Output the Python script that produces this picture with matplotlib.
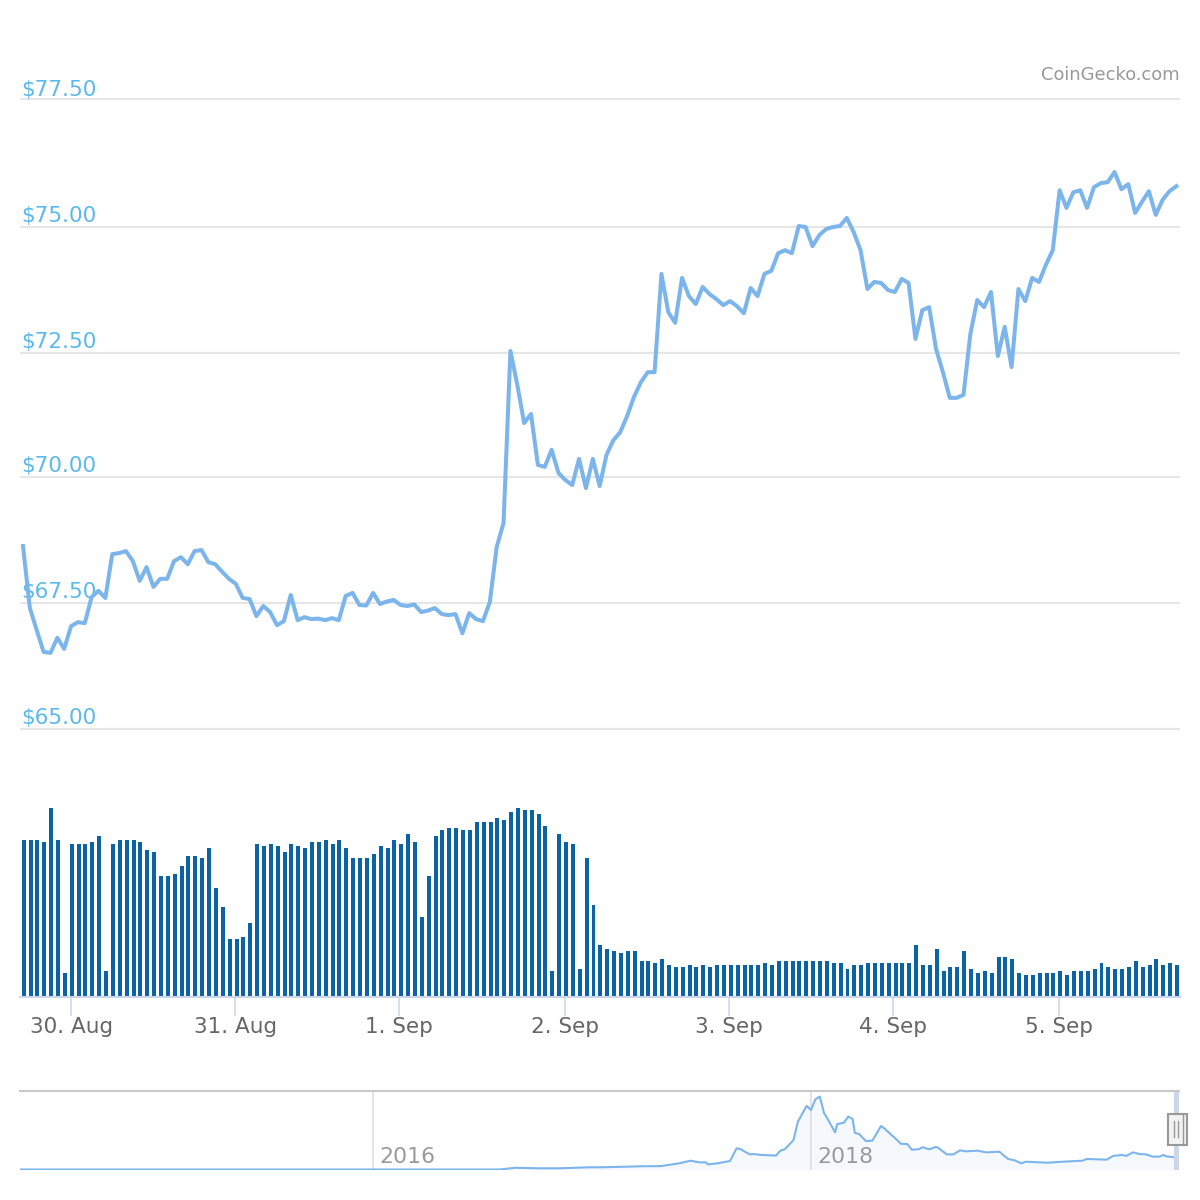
import numpy as np
import matplotlib
matplotlib.use('Agg')
import matplotlib.pyplot as plt
from matplotlib.patches import Rectangle
from matplotlib.lines import Line2D

# hourly price
prices = [68.63, 67.40, 66.96, 66.53, 66.51, 66.81, 66.59, 67.04, 67.12, 67.10,
          67.62, 67.74, 67.60, 68.47, 68.49, 68.53, 68.33, 67.94, 68.21, 67.82,
          67.98, 67.98, 68.33, 68.41, 68.27, 68.53, 68.55, 68.31, 68.27, 68.12,
          67.98, 67.88, 67.60, 67.58, 67.24, 67.44, 67.32, 67.06, 67.14, 67.66,
          67.16, 67.22, 67.18, 67.19, 67.16, 67.20, 67.16, 67.64, 67.70, 67.46,
          67.45, 67.70, 67.48, 67.53, 67.56, 67.46, 67.44, 67.47, 67.32, 67.35,
          67.40, 67.28, 67.26, 67.28, 66.90, 67.30, 67.18, 67.14, 67.52, 68.61,
          69.09, 72.50, 71.83, 71.07, 71.25, 70.24, 70.20, 70.54, 70.08, 69.94,
          69.84, 70.36, 69.78, 70.36, 69.82, 70.44, 70.73, 70.89, 71.21, 71.59,
          71.88, 72.08, 72.08, 74.03, 73.27, 73.06, 73.95, 73.59, 73.43, 73.77,
          73.63, 73.53, 73.41, 73.49, 73.39, 73.25, 73.75, 73.59, 74.03, 74.09,
          74.44, 74.50, 74.44, 74.98, 74.96, 74.58, 74.80, 74.92, 74.96, 74.98,
          75.14, 74.86, 74.50, 73.73, 73.87, 73.85, 73.71, 73.67, 73.93, 73.85,
          72.74, 73.31, 73.37, 72.54, 72.08, 71.57, 71.57, 71.63, 72.84, 73.51,
          73.37, 73.67, 72.40, 72.98, 72.18, 73.73, 73.49, 73.95, 73.87, 74.21,
          74.50, 75.69, 75.34, 75.65, 75.69, 75.34, 75.75, 75.83, 75.85, 76.05,
          75.71, 75.81, 75.24, 75.46, 75.67, 75.20, 75.50, 75.67, 75.77]

# volume bars, arbitrary units since the panel has no scale
volumes = [156, 156, 156, 154, 188, 156, 24, 152, 152, 152, 154, 160, 26, 152, 156,
           156, 156, 154, 146, 144, 120, 120, 122, 130, 140, 140, 138, 148, 108, 90,
           58, 58, 60, 74, 152, 150, 152, 150, 144, 152, 150, 148, 154, 154, 156,
           152, 156, 148, 138, 138, 138, 142, 150, 148, 156,
           152, 162, 154, 80, 120, 160, 166, 168, 168, 166, 166, 174, 174, 174, 178,
           176, 184, 188, 186, 186, 182, 170, 26, 162, 154, 152, 28, 138, 92, 52,
           48, 46, 44, 46, 46, 36, 36, 34, 38, 32, 30, 30, 32, 30, 32,
           30, 32, 32, 32, 32, 32, 32, 32, 34, 32, 36, 36, 36, 36,
           36, 36, 36, 36, 34, 34, 28, 32, 32, 34, 34, 34, 34, 34, 34,
           34, 52, 32, 32, 48, 26, 30, 30, 46, 28, 24, 26, 24, 40, 40,
           38, 24, 22, 22, 24, 24, 24, 26, 22, 26, 26, 26, 28, 34, 30,
           28, 28, 30, 36, 30, 32, 38, 32, 34, 32]

# the gridlines in the picture are not quite evenly spaced
price_ticks = [65, 67.5, 70, 72.46, 74.96, 77.5]
price_labels = ['$65.00', '$67.50', '$70.00', '$72.50', '$75.00', '$77.50']
day_ticks = [6.9, 30.8, 54.7, 78.85, 102.75, 126.65, 150.8]
day_labels = ['30. Aug', '31. Aug', '1. Sep', '2. Sep', '3. Sep', '4. Sep', '5. Sep']

# navigator series, whole history
nav_years = [2014.39, 2015.67, 2016.58, 2016.65, 2016.69, 2016.76, 2016.85, 2016.99, 2017.04,
             2017.17, 2017.22, 2017.31, 2017.33, 2017.40, 2017.45, 2017.49, 2017.52, 2017.53,
             2017.57, 2017.63, 2017.65, 2017.66, 2017.68, 2017.72, 2017.74, 2017.77, 2017.84,
             2017.86, 2017.88, 2017.92, 2017.94, 2017.98, 2018.00, 2018.02, 2018.04, 2018.06,
             2018.07, 2018.11, 2018.12, 2018.15, 2018.17, 2018.19, 2018.20, 2018.22, 2018.25,
             2018.28, 2018.32, 2018.34, 2018.37, 2018.38, 2018.41, 2018.44, 2018.46, 2018.49,
             2018.51, 2018.54, 2018.57, 2018.58, 2018.62, 2018.65, 2018.68, 2018.71, 2018.76,
             2018.80, 2018.86, 2018.90, 2018.93, 2018.96, 2018.98, 2019.08, 2019.15, 2019.24,
             2019.26, 2019.35, 2019.38, 2019.42, 2019.44, 2019.47, 2019.50, 2019.53, 2019.56,
             2019.59, 2019.61, 2019.62, 2019.67]
nav_prices = [3, 3, 3, 13, 12, 10, 10, 16, 16,
              20, 22, 23, 26, 40, 55, 45, 45, 33,
              39, 53, 102, 128, 122, 92, 94, 89, 85,
              114, 122, 177, 285, 378, 354, 417, 433, 334,
              315, 222, 271, 279, 315, 301, 220, 212, 171,
              173, 260, 240, 203, 193, 155, 153, 120, 122,
              134, 122, 136, 132, 92, 92, 116, 110, 114,
              104, 108, 65, 57, 39, 49, 43, 49, 55,
              65, 61, 83, 89, 83, 104, 94, 92, 79,
              79, 89, 81, 73]
nav_ticks = [2016, 2018]

W = H = 1200
fig = plt.figure(figsize=(12, 12), dpi=100, facecolor='white')


def px_axes(left, top, right, bottom):
    ax = fig.add_axes([left / W, 1 - bottom / H, (right - left) / W, (bottom - top) / H])
    ax.patch.set_alpha(0)
    for s in ax.spines.values():
        s.set_visible(False)
    return ax


step = 6.865
hours = np.arange(len(prices))

# price panel
ax = px_axes(20, 60, 1180, 740)
ax.set_xlim((20 - 23) / step, (1180 - 23) / step)
ax.set_ylim(65 - 11 / 50.4, 65 + 669 / 50.4)
ax.set_xticks([])
ax.set_yticks([])
for val, lab in zip(price_ticks, price_labels):
    ax.axhline(val, color='#e6e6e6', lw=1.5, zorder=1)
    # top label sits closer to its line in the original
    dy = 2.2 if lab == '$77.50' else 3.5
    ax.annotate(lab, xy=(0, val), xycoords=('axes fraction', 'data'), xytext=(1, dy),
                textcoords='offset points', color='#5bb9ec', fontsize=15.5, va='baseline',
                family='DejaVu Sans', zorder=2)
ax.plot(hours, prices, color='#7cb5ec', lw=2.9, zorder=3, solid_joinstyle='round')

# volume panel, bars sit a little right of the line points
vx = px_axes(20, 790, 1180, 997)
vx.set_xlim((20 - 23.7) / step, (1180 - 23.7) / step)
vx.set_ylim(0, 206)
vx.bar(hours, volumes, width=0.58, color='#0b62a4', zorder=2)
vx.set_yticks([])
vx.spines['bottom'].set_visible(True)
vx.spines['bottom'].set_color('#ccd6eb')
vx.spines['bottom'].set_linewidth(1.5)
vx.set_xticks(day_ticks)
vx.set_xticklabels(day_labels, fontsize=15.5, color='#666666')
vx.tick_params(axis='x', length=13.5, width=1.1, color='#ccd6eb', pad=0.7)

# navigator
nx = px_axes(20, 1091, 1180, 1170)
nx.set_xlim(2016 + (20 - 373) / 219, 2016 + (1180 - 373) / 219)
nx.set_ylim(0, 466)
nx.set_xticks([])
nx.set_yticks([])
for yr in nav_ticks:
    nx.axvline(yr, color='#e0e0e0', lw=1.3, zorder=1)
    nx.annotate(str(yr), xy=(yr, 0), xycoords='data', xytext=(4.6, 5.3), textcoords='offset points',
                color='#999999', fontsize=15.8, va='baseline', zorder=3)
nx.fill_between(nav_years, nav_prices, color='#7cb5ec', alpha=0.07, lw=0, zorder=0)
nx.plot(nav_years, nav_prices, color='#7cb5ec', lw=1.5, zorder=2)

# navigator frame and handle, in pixels
fig.add_artist(Line2D([20 / W, 1179 / W], [1 - 1091 / H] * 2, color='#c8c8c8', lw=1.5))
fig.add_artist(Rectangle((1174 / W, 1 - 1170 / H), 5 / W, 79 / H, facecolor='#ccd6eb', edgecolor='none'))
fig.add_artist(Rectangle((1167.5 / W, 1 - 1145 / H), 19 / W, 31 / H, facecolor='#f2f2f2',
                         edgecolor='#999999', lw=1.5))
for gx in [1174, 1178, 1183]:
    top = 1121 if gx != 1183 else 1115
    bot = 1137 if gx != 1183 else 1145
    fig.add_artist(Line2D([gx / W, gx / W], [1 - top / H, 1 - bot / H], color='#999999', lw=1))

fig.text(1180 / W, 1 - 80 / H, 'CoinGecko.com', ha='right', va='baseline', color='#999999', fontsize=12.9)

plt.savefig('out.png', dpi=100)
